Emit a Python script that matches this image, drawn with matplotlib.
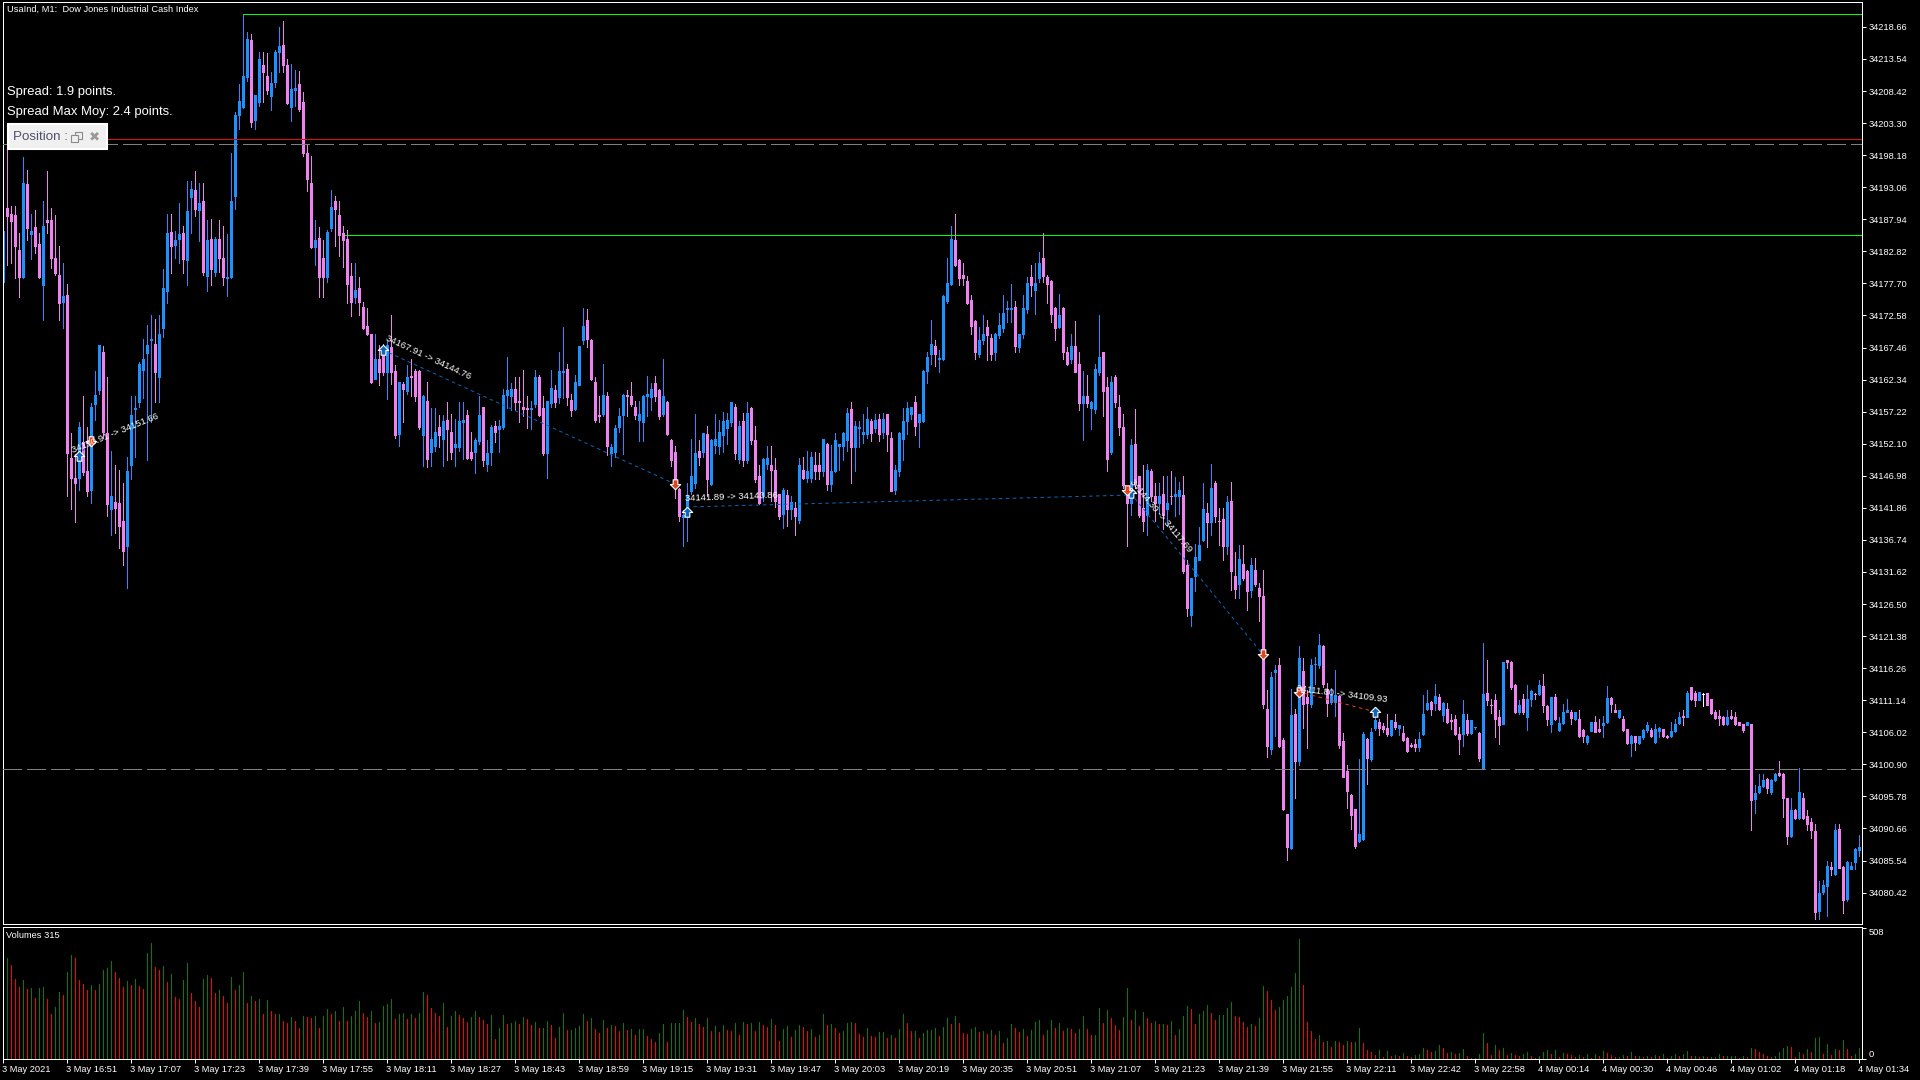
import numpy as np
import matplotlib
matplotlib.use('Agg')
import matplotlib.pyplot as plt
from matplotlib.path import Path
from matplotlib.patches import Rectangle

plt.rcParams['font.family'] = ['Liberation Sans', 'DejaVu Sans']
plt.rcParams['lines.scale_dashes'] = False

base_price = 34000

# candles, points above base_price
body_top = [
    186,189.7,188.8,188.6,183,193.8,193.6,186,186.7,184,
    186.9,187.8,187.9,181.8,179,175.7,175.9,149.8,146.6,154.7,
    152.4,147.7,158,159.9,167.9,166.8,153.8,143.8,142.8,142.6,
    139.8,147.8,156.7,157.8,164.8,165.6,167.9,168.8,168,169.6,
    176.9,185.7,185.9,184.7,185.6,185.8,189.3,192.8,192.6,190.6,
    190.8,184.7,184.8,184.8,184.8,181.7,178.8,190.9,204.6,206.8,
    210.8,216.8,216.6,207.8,213.5,212.6,210.8,209.7,214.7,215.6,
    215.8,212.6,208.8,208.9,209.5,206.7,198.6,193.7,184.7,185,
    181.8,185.9,189.9,190.9,188.6,185.7,184.8,178.9,176.6,176.9,
    174,170.9,169.6,165.7,165.7,167.5,167.9,167.5,163.7,162,
    161.6,162.8,162.9,163.7,163.7,159.7,158.9,152.9,153.9,154.7,
    155.7,155.9,153.9,152,155.7,155.9,156.7,150.7,152.7,156.7,
    157.9,150.6,154.8,154.9,154.9,159.8,160.7,160.9,160.9,158.9,
    158,157.8,157.8,162.7,162.7,157.8,158.9,161,160.7,163.7,
    163.7,164,159.1,162,167.7,170.9,171.9,168.7,162,156.7,
    159.8,159.7,151.5,154.6,156.6,159.9,159.9,159.7,158,156.9,
    159.7,160,160.9,161.8,160.7,159.7,158.8,152.7,150.7,144.9,
    140.7,143.9,146.9,150.6,151,153.8,153.7,152.7,152.9,154,
    155.7,155.9,158.8,158,154.9,155.7,157,157.8,152.7,147,
    149.7,149.8,148.7,147.9,144,144.7,143.9,142.8,141.8,148.7,
    147.9,147.8,149.9,148.7,148.7,152.8,
    152.1,147.8,152.7,152,153.8,157,157.7,154.9,154.7,154,
    156,155.8,155.9,156,156,156.9,153,147.9,153.8,155.7,
    157.8,158,158.7,156.9,163.7,165.9,168,167.7,165.8,175.7,
    177.8,184.8,184.6,181.5,179,178.1,175,171.7,168.7,169.6,
    170.7,169,169.6,171,172.9,173.8,173.8,173.9,169.7,173.7,
    177.7,178.7,177.7,181,181.7,178.7,178.1,173.8,172.7,173.8,
    166.8,167.7,167.7,164.8,159.7,159.7,158.8,164,166,166.7,
    161.1,162,162.8,158,154.7,144.7,151.9,152.1,146.9,141.8,
    147.9,147.8,143.8,143.8,144.1,142.7,
    143.8,144,144.7,143.9,132.8,130.6,134,136,141.6,141,
    145,145.9,139.8,140.1,142.8,143,131,133.7,132.9,131.8,
    132.7,132,129,127.8,109.8,114.8,116,116.7,104.8,92.9,
    108.8,109,117.9,115.8,111.6,116.8,117,119.9,119.8,113,
    112,112,111.8,104.7,99.8,96,93.7,89.7,105.8,105,
    106,107.9,107.6,107,106.7,107.9,107.6,107.1,105.9,105.1,
    104,104.2,105,109,110.7,110.8,111.8,111.7,110.7,109.7,
    107.9,108.1,105.8,109,107.9,107.9,106.9,105.9,112.2,112.3,
    110.4,111.2,108.4,117.3,117.5,117.3,113.6,
    110.4,111.3,111.4,112.6,112.2,113.6,113.4,110.2,111.6,111.6,
    107.5,109.2,109.6,109.2,109.2,108.2,106.4,105.5,107.6,107.6,
    106.5,107.5,111.5,111.5,109.6,109.5,108.2,106.5,105.5,105.4,
    105.4,106.4,107.2,106.4,106.5,106.7,106.5,105.4,106.2,107.3,
    108.4,108.6,112.3,113.2,112.3,112.5,112.2,112.3,111.3,109.3,
    108.6,108.4,108.4,108.6,108.4,107.6,107.3,107.6,107.3,96.4,
    97.4,98.4,98.6,98.4,99.4,99.5,99.4,95.5,93.6,93.6,
    96.5,95.5,92.7,91.7,90.3,80.4,81.7,84.7,84.5,90.4,
    90.6,84.5,85.3,84.7,87.4,87.7,
]
body_bottom = [
    178,188.5,187.7,183.7,178.8,178.7,186.5,185.6,183.6,178.7,
    177.4,187.5,181.8,179.4,174.6,174.8,150.6,146.6,145.8,146.6,
    147.6,144.6,144.7,158.4,160.6,154,142.5,141.7,141.9,138.9,
    134.9,135.7,148.7,157.6,158.7,163.8,166.6,168.6,163.6,162.7,
    170.6,176.5,183.6,183.9,184.8,181.6,181.5,191.5,189.6,189.5,
    179.6,178.9,180,179.6,181.8,178.8,178.6,178.7,191.6,204.6,
    205.8,210.6,203.5,203.8,206.6,211.5,208.6,207.6,209.9,214.7,
    212.6,206.5,205.8,208.6,205.6,198.6,194.4,183.5,183.5,178.8,
    178.7,178.8,186.6,189.6,185.5,184.7,177.6,174.8,175.6,174.8,
    170.6,169.7,161.9,162.5,163.6,163.6,163.6,163.6,153.5,153.7,
    160.8,160.5,162.8,159.7,154.8,153.5,149.6,150.7,151.7,153.5,
    152.9,154.4,150.7,151.6,151.6,155.5,149.8,149.8,150.8,152.6,
    149.5,148.9,150.7,153.9,154.5,154.7,159.8,159.7,158.7,158.7,
    157.7,157.7,157.7,158.5,156.7,150.6,150.6,158.6,158.7,159.5,
    163.6,159.6,157.5,157.7,161.5,168.6,168.9,162.4,155.9,156.5,
    156.8,151.7,150.6,150.7,154.7,156.7,159.7,158.5,156.7,155.9,
    155.6,159.7,159.6,159.7,156.5,156.9,153.7,149.5,145.3,140.6,
    140.4,141,144.6,145.8,149.9,150.7,146.5,145.7,151.9,151.8,
    153.5,154.6,155.6,150.6,149.7,149.5,149.5,152.7,146.5,142.6,
    143.7,148.9,147.9,142.9,140.6,140.9,141.7,141.7,140.6,139.9,
    146.7,146.7,146.7,147.8,147.8,147.7,
    145.7,145.7,147.8,151.8,151.8,152.7,151.6,151.6,154.6,153.7,
    153.7,153.8,154.6,153.7,153.9,153.7,144.6,144.7,147.7,152.9,
    155.8,156.9,154.9,155.6,155.7,163.7,166.5,166.5,165.7,165.7,
    174.9,177.6,180.6,178.6,178.5,174.6,170.9,166.8,166.5,168.7,
    169.5,166.5,166.8,169.5,170.5,173.6,173.6,167.7,167.5,169.7,
    173.6,177.4,176.6,178.6,178.9,177.6,172.8,170.6,170.8,166.7,
    164.8,165.6,163.6,158.6,158.6,158.6,157.8,157.7,163.5,160.5,
    149.7,150.7,158.7,154.7,145.5,142.7,142.7,145.6,140.7,139.7,
    140.7,143.7,142.6,142.7,140.7,141.7,
    143.7,143.8,143.7,131.8,125.8,124.8,130.9,133.6,136.7,139.6,
    139.6,140.5,139.7,135.7,135.7,131.7,128.9,129.7,130.7,128.6,
    128.7,129.7,127.8,110.5,103.8,103.4,115.6,103.9,93.7,87.7,
    87.5,101.5,101.5,110.6,110.7,110.6,116.9,116.7,113.7,110.7,
    110.8,110.9,104,98.9,96.6,92.8,87.8,88.7,88.9,101.9,
    101.7,106.7,106.7,106.6,105.8,105.6,106.8,106.7,104.8,103,
    103.9,103.6,103.6,105.8,109.7,109.7,110.7,109.8,108.8,107.6,
    107.8,105.8,105,105.8,105.9,105.9,106.8,101.9,100.1,111.1,
    110.3,108.2,107.2,107.4,117.3,113.2,109.2,
    109.2,109.2,108.5,111.3,112.1,112.1,110.4,108.1,107.3,108.1,
    106.4,107.5,109.3,108.3,108.2,105.4,105.4,104.5,106.2,106.1,
    106.2,107.2,107.6,110.6,109.3,108.4,106.4,104.3,104.3,104.5,
    104.3,105.3,106.4,105.4,104.4,106.2,105.4,105.2,105.4,106.2,
    107.5,108.4,108.5,111.3,111.2,111.2,112.2,110.4,109.1,108.3,
    108.3,107.3,107.3,108.3,107.3,107.2,106.4,107.2,95.2,95.4,
    96.5,97.4,97.1,96.5,98.4,99.2,95.5,89.5,89.4,92.3,
    92.3,92.3,91.4,90.4,77.3,77.5,80.5,81.4,84.2,83.4,
    84.4,79.3,79.4,84.2,85.3,87.2,
]
wick_high = [
    190.8,200.6,190,190,185.7,197.9,195.8,188.8,189.4,185.8,
    190.8,195.7,189.7,188.6,183.7,181,177.6,153.8,150.5,155.6,
    159.7,154.7,158.6,163.7,167.9,167.7,162.7,150.9,148.7,147.9,
    145.8,150,159.7,159.7,165.2,168.8,171,172.7,172,172.7,
    180,188.8,188.8,186,190.5,186.8,194,194,195.6,193.7,
    193.7,187.9,188,185.1,187.8,186.8,185.6,198.6,205,209.6,
    220.7,217.8,217.5,207.8,214.7,214.6,214.5,211.5,215,218.7,
    219.6,213.5,212.7,211.8,211.7,208.3,200,198,187.8,186.7,
    184.7,186.3,192.6,191.7,190.8,186.8,186.2,181,181,178.7,
    174.7,173.7,169.6,169.7,167.9,168,168.5,172.7,164.7,162,
    162,164.7,165.7,164,163.9,159.8,162,157.8,157.8,156.7,
    156.7,158.8,156.8,156,158.7,158.7,157.5,153.9,153,159.7,
    158,152.7,155.1,155.7,155.9,160.8,165.9,161.8,162.7,162.7,
    163.9,159.7,158.9,163.9,163,159.7,159,163.9,161.5,166.8,
    170.7,164.8,160,163.1,167.7,173.7,173.6,168.9,162.7,159.7,
    164.9,160.4,152,155.1,157.8,160,160.7,161.9,158.9,158.9,
    159.9,162.9,161.8,162.9,160.9,165.7,158.9,152.9,151.8,145,
    141.5,145.9,152.9,156.9,152.7,153.8,154.9,152.8,156.9,155.9,
    157.2,157,158.8,158.5,155.8,157,158.8,158,154.9,148.7,
    149.8,151.8,151.8,149.8,144.1,145,144.7,143.7,142.8,149.8,
    150,151,150.7,150.7,150.6,152.9,
    152.2,151.9,153.8,152,154,157.8,158.7,155.8,155.8,156.9,
    158,156,156.9,156.9,157,156.9,153.9,148.7,154,157.8,
    158.7,158,159.7,156.9,163.8,166.7,171.9,168.7,167.1,175.8,
    181.8,186.8,188.8,181.6,180.9,178.9,175.9,171.9,170.7,172.7,
    171.8,169.7,169.8,172.9,175.9,174.9,177.6,174.9,169.7,175.9,
    178.7,180.6,180.9,182.7,185.7,179,178.2,174,176,174,
    167.5,169.7,171.7,166.7,163.7,163.1,159,164.8,172.7,166.8,
    162.8,162.9,163,159.9,156.9,145.2,152.9,157.6,147,148.7,
    148.9,148,145.9,145.8,146.9,147,
    147.7,146.8,146,146.9,133.6,130.7,136.1,138.8,145.9,142.7,
    148.8,146.1,141.8,141.8,143.8,146,134.8,136,136,132,
    133.8,133.8,129.8,132,112.8,115.7,116.7,117.9,105.1,93,
    112.9,109.7,119.8,117.8,112.8,117.7,118,121.7,119.9,113.9,
    113.1,116,112,105.9,100.8,96.2,93.8,101.7,106.1,105.1,
    106.7,109.1,108.1,107.5,109,108,108.9,107.2,107,105.2,
    104.3,105,106.1,111.9,112.8,111,113.8,112.1,110.8,110.7,
    109,108.8,106.9,111.1,108.9,107.9,106.9,106.1,120.2,117.5,
    111.4,112.2,109.5,117.3,117.6,117.4,113.7,
    111.2,112.2,113.6,112.7,112.3,114.4,115.3,110.3,111.7,112.2,
    108.4,110.5,111.4,109.6,109.3,109.6,106.5,105.6,107.7,108.6,
    108.1,108.6,113.4,111.7,110.6,109.6,108.6,106.6,105.6,105.5,
    105.5,106.5,107.7,106.7,107.3,106.8,106.6,105.6,107.6,108.2,
    109.3,109.6,112.6,113.3,112.6,112.5,112.3,112.3,111.4,109.5,
    109.5,108.6,109.5,109.5,109.3,107.6,107.4,107.6,107.3,97.6,
    99.4,99.4,98.7,98.5,99.5,101.4,99.5,95.6,95.5,93.7,
    100.3,96.3,93.6,92.3,91.4,82.3,82.4,85.5,85.3,91.4,
    91.4,84.6,85.4,85.3,87.5,89.6,
]
wick_low = [
    173.7,180.7,180.9,178.5,175.6,178.6,184.7,181.6,182.5,178.5,
    171.9,185.7,180.1,179,171.9,170.5,143.7,141.6,139.6,144.7,
    147.1,143.7,142.6,155.9,160,153,140.6,137.5,137.8,135.5,
    132.8,129,146.5,150,158,159.4,149.5,155.5,158.7,158.8,
    169.2,174.6,179.4,181.7,181,179.4,177.4,185.7,188.4,184.5,
    179,176.5,177.4,178.9,179.5,177.5,175.7,178.5,189.6,202.3,
    205.7,210,202.6,202.4,206,206.6,208,205.4,209,211.5,
    211.5,206.3,203.7,206,205.3,198,192.5,183.3,180.7,175.6,
    175.6,178,186,183.6,182,180.4,174.6,172.5,174.6,172.6,
    170.4,169.5,161.8,162.4,161.5,163,159.3,161.7,153,151.7,
    155.5,160,159.7,159,154.5,148.5,148.4,148.5,151,151.6,
    148.5,149.5,149.6,148.5,151,149.6,149.6,149.5,147.5,152,
    148.6,147.7,148.7,152.4,150.7,154.5,157.8,157.5,157.5,155.6,
    156.5,154.6,154.5,158,156.5,150.3,146.7,158,158,158.6,
    159.4,158.3,156.5,157.5,161.4,168,167.5,162.3,155.6,155.6,
    156.5,150.3,148.6,150,154,150.5,156.5,158.2,156,152.6,
    152.6,156.5,157.5,159,156,156.5,153.5,148.6,143.5,139.7,
    135.7,136.6,144.1,145,148.7,150,143.8,145.5,150.6,150.5,
    150.7,152,155,149.7,149,148.6,149,152,146,142.4,
    143,148,142.9,142,140,138.7,138.9,140,137.5,139.5,
    146.5,146,146,146.5,146.5,147,
    144.7,144.6,147.6,147.9,149.5,150.9,145.8,147.7,151.6,152.2,
    153,152.6,154,152.6,153,150.9,144.5,144,147,149.5,
    153.7,156,153.5,151.6,155.5,161.8,164.8,164.5,163.6,165.5,
    174.6,177.5,180.5,177.4,177.4,174.4,169.6,165.6,166,168,
    165.5,165.5,165.5,169,170,171.6,171.6,166.8,166.7,169,
    173,175.7,172.8,178,178,174.6,171.6,168.6,170.5,165.6,
    164.6,165,163.5,157.5,152.7,158,154.5,157,163,156.5,
    147.7,150.5,158,153.5,145,135.7,140.7,145,140.4,138.1,
    137.5,143,139.7,141,138.5,138.9,
    142.5,140.6,140.9,131.5,124.6,123,128.6,133.5,136.5,135.6,
    137.6,139.6,136,133.6,134.5,128.7,127.5,127.5,130.4,125.6,
    127.6,129.4,123.8,109.9,102,102.5,105.4,103.6,93.6,85.7,
    87.4,95.5,100.8,106.7,103.5,110.1,113.7,116.3,113.2,108.6,
    110.6,108.6,103.5,98.8,93.9,90.5,87.5,88.5,88.8,97.7,
    101.5,106.4,105.6,106.1,105.5,105.5,106.6,105.6,104.6,102.9,
    103.6,103,103,105.6,109.6,108.7,109.5,109.6,107.8,107.5,
    106.6,105.6,102.6,103.9,105.6,105.8,106.6,101.5,100.1,110.3,
    109.1,105.3,104.2,107.3,116.3,113,109.1,
    109,109,106.4,110.2,111.3,112,109.2,107.2,106.1,108,
    106.3,107.3,109.2,107.3,108,105.2,104.4,104.1,106.2,106,
    106.1,105.2,107.5,109.3,109.2,108.3,106.3,104.1,102.2,103.2,
    104.1,105,106.1,105.2,104.3,105.2,105.2,105.1,105.3,106.1,
    107.4,107.2,108.4,111.2,110.2,111.1,110.2,110.3,109,108.1,
    107.2,107.2,107.2,108.1,107.2,107.2,106.1,107.2,90.4,93.2,
    96.3,97.2,96.4,96.2,98.3,99.1,92.5,88.2,89.3,92.2,
    92.2,92.2,90.4,89.1,76.2,76.2,80.2,76.6,83.2,83.2,
    84.3,77.2,79.1,84.2,84.2,86.3,
]

# b = up candle, p = down candle, w = open equals close
direction = (
    'bppppbpbppbppppbpppb' 'ppbbbppbpppbbbbbbbpb' 'bbpbbpbbpbpbpbppbbbb'
    'bbpbbppbbbppbbppppbp' 'pbbpppppbppppbppbppb' 'pbpppbpbbpbppbbbppbb'
    'pbbpbbbbppppbbppbbpb' 'bppbbbppppbpbbbbpppb' 'bbbppbppppbbbbpbpbbb'
    'bbbpbpbpppbbpppbpbpb' 'pbbppb'
    'pbbbbbpbbbbpbpbppbbb' 'bbpbbbbpbbbbppppppbb' 'ppbbbbbpbbbpbbppppbp'
    'pbppbpbbbppbppppbppp' 'bppbpb'
    'pbbppbbbbpbpppbppbpp' 'bppppbbpppbpbppbbbpp' 'bbpppppbbpbbpppbpbpp'
    'ppbbbpbpbppppbpbbpbp' 'pppbppp'
    'bpbbpbppbpbbbpbppbbp' 'pbbppbppbpbbbpbbppbb' 'bpbppbwpppppbppppbpb'
    'bbpbbpppbpbppppbbbpb' 'ppbbbb'
)

# volumes
volumes = [
    300,393,367,312,281,308,273,277,238,277,281,234,176,203,261,250,339,406,394,308,
    292,269,289,269,292,347,355,382,339,316,281,304,289,312,285,273,413,452,359,347,
    363,300,332,242,234,308,374,257,226,203,312,328,316,257,269,246,218,320,269,289,
    339,218,246,226,234,176,230,187,176,176,148,140,164,148,121,168,164,160,168,121,
    168,195,176,187,148,203,148,168,187,226,179,164,187,140,144,207,214,234,156,176,
    179,156,176,160,179,261,250,199,179,168,218,125,168,187,172,160,144,164,187,164,
    152,137,172,78,121,172,137,140,148,137,164,156,133,144,121,121,148,133,82,125,
    179,113,113,121,129,176,148,160,117,101,152,121,133,129,109,140,113,117,94,117,
    117,90,78,66,101,137,66,140,140,140,192,164,144,160,137,125,160,109,129,105,
    133,113,109,140,94,144,137,140,109,144,133,125,156,133,70,117,129,86,113,133,
    125,109,117,86,94,176,133,137,121,101,109,140,144,140,98,86,121,90,86,105,
    105,82,94,82,117,176,140,109,109,82,101,113,113,121,90,125,160,137,168,140,
    101,98,117,125,105,109,98,113,94,109,62,82,137,121,105,117,90,113,144,152,
    94,113,152,121,140,109,121,117,101,117,168,117,94,94,199,140,191,160,133,113,
    164,277,152,191,129,183,160,140,148,137,137,133,148,94,117,168,207,195,137,176,
    187,211,179,152,172,172,199,222,168,164,144,125,137,129,160,285,265,230,191,203,
    230,246,281,335,468,289,144,109,78,94,66,70,47,70,66,55,70,66,66,121,
    62,35,27,16,35,8,31,12,16,12,23,12,8,16,20,43,35,27,31,55,
    43,23,27,20,23,39,12,4,4,20,101,62,16,55,35,43,16,23,16,12,
    20,27,12,4,12,27,35,20,35,8,23,20,16,8,16,8,20,4,20,12,
    31,23,16,8,8,16,13,27,12,12,8,12,8,16,12,20,4,13,20,12,
    20,31,12,12,8,12,8,8,8,20,12,12,12,12,4,12,8,43,39,27,
    20,12,8,12,27,43,51,47,8,27,20,39,27,82,86,20,59,16,39,35,
    74,39,12,20,43,
]

price_ticks = [
    '34218.66','34213.54','34208.42','34203.30','34198.18','34193.06','34187.94',
    '34182.82','34177.70','34172.58','34167.46','34162.34','34157.22','34152.10',
    '34146.98','34141.86','34136.74','34131.62','34126.50','34121.38','34116.26',
    '34111.14','34106.02','34100.90','34095.78','34090.66','34085.54','34080.42',
]
time_labels = [
    '3 May 2021','3 May 16:51','3 May 17:07','3 May 17:23','3 May 17:39','3 May 17:55',
    '3 May 18:11','3 May 18:27','3 May 18:43','3 May 18:59','3 May 19:15','3 May 19:31',
    '3 May 19:47','3 May 20:03','3 May 20:19','3 May 20:35','3 May 20:51','3 May 21:07',
    '3 May 21:23','3 May 21:39','3 May 21:55','3 May 22:11','3 May 22:42','3 May 22:58',
    '4 May 00:14','4 May 00:30','4 May 00:46','4 May 01:02','4 May 01:18','4 May 01:34',
]

# trades: bar index and price (points above base) of each end
trade_start_bar = [19, 95, 171, 282, 324]
trade_start_price = [150.1, 167.1, 142.0, 144.2, 112.5]
trade_end_bar = [22, 168, 282, 315, 343]
trade_end_price = [152.5, 145.7, 143.9, 118.5, 109.3]
trade_color = ['#0A64C0', '#0A64C0', '#0A64C0', '#0A64C0', '#E8401C']
trade_text = ['34150.91 -> 34151.66', '34167.91 -> 34144.76', '34141.89 -> 34143.86',
              '34144.30 -> 34117.69', '34111.80 -> 34109.93']
trade_text_bar = [17.5, 96, 170.5, 282, 323.5]
trade_text_price = [151.0, 169.1, 143.3, 146.2, 113.0]
trade_text_angle = [22, -25, 2, -50, -7]

buy_bars = [19, 95, 171, 282, 343]
buy_prices = [150.1, 167.1, 141.2, 144.2, 109.3]
sell_bars = [22, 168, 281, 315, 324]
sell_prices = [152.5, 145.7, 144.7, 118.5, 112.5]

# levels, points above base
level_red = 200.7
levels_grey = [199.9, 100.1]
level_green_top = 220.7
level_green_mid = 185.5

W, H = 1920, 1080
LEFT, RIGHT = 2.5, 1862.0
TOP_MAIN, BOT_MAIN = 2.0, 924.0
TOP_VOL, BOT_VOL = 926.5, 1059.0


def pane(fig, top, bottom):
    ax = fig.add_axes([LEFT / W, 1 - bottom / H, (RIGHT - LEFT) / W, (bottom - top) / H])
    ax.set_facecolor('black')
    for s in ax.spines.values():
        s.set_color('white')
        s.set_linewidth(0.72)
    ax.set_xlim(0, (RIGHT - LEFT) / 4)
    ax.yaxis.tick_right()
    ax.tick_params(colors='white', length=3, width=0.72, labelsize=6.7, pad=1.5)
    return ax


fig = plt.figure(figsize=(W / 100, H / 100), dpi=100, facecolor='black')
ax = pane(fig, TOP_MAIN, BOT_MAIN)
vol = pane(fig, TOP_VOL, BOT_VOL)

assert len(body_top) == len(body_bottom) == len(wick_high) == len(wick_low) == 465
assert len(volumes) == 465
assert len(direction) == 465, len(direction)

bars = np.arange(465)
top = base_price + np.array(body_top)
bottom = base_price + np.array(body_bottom)
high = base_price + np.array(wick_high)
low = base_price + np.array(wick_low)

colors = {'b': '#1E90FF', 'p': '#EE82EE', 'w': '#FFFFFF'}
candle_colors = [colors[d] for d in direction]

ax.vlines(bars, low, high, colors=candle_colors, linewidth=0.72, antialiased=False, zorder=2)
ax.bar(bars, top - bottom, 0.5, bottom=bottom, color=candle_colors, edgecolor=candle_colors,
       linewidth=0.72, antialiased=False, zorder=2)

ax.set_ylim(34075.4, 34222.64)
ax.set_yticks([float(p) for p in price_ticks])
ax.set_yticklabels(price_ticks)
ax.set_xticks([])

# horizontal levels
right_end = (RIGHT - LEFT) / 4
ax.hlines(base_price + level_red, 1.2, right_end, color='#E01010', linewidth=0.72, antialiased=False, zorder=3)
ax.hlines(base_price + level_green_top, 60, right_end, color='#00FF00', linewidth=0.72, antialiased=False, zorder=3)
ax.hlines(base_price + level_green_mid, 85.5, right_end, color='#00FF00', linewidth=0.72, antialiased=False, zorder=3)
for lv in levels_grey:
    ax.plot([0, right_end], [base_price + lv] * 2, color='#808080', linewidth=0.72,
            dashes=(13, 4.3), antialiased=False, zorder=3)

# trade lines, arrows, texts
for i in range(len(trade_start_bar)):
    ax.plot([trade_start_bar[i], trade_end_bar[i]],
            [base_price + trade_start_price[i], base_price + trade_end_price[i]],
            color=trade_color[i], linewidth=0.72, dashes=(2.5, 2.5), zorder=4)
    ax.text(trade_text_bar[i], base_price + trade_text_price[i], trade_text[i],
            color='white', fontsize=6.8, rotation=trade_text_angle[i], rotation_mode='anchor',
            ha='left', va='center', zorder=6)

up_arrow = Path([(-1, 0), (0, 1), (1, 0), (0.45, 0), (0.45, -0.9), (-0.45, -0.9), (-0.45, 0), (-1, 0)], closed=True)
down_arrow = Path([(-1, 0), (0, -1), (1, 0), (0.45, 0), (0.45, 0.9), (-0.45, 0.9), (-0.45, 0), (-1, 0)], closed=True)
ax.plot(buy_bars, base_price + np.array(buy_prices), linestyle='none', marker=up_arrow, markersize=7.5,
        markerfacecolor='#0A64C0', markeredgecolor='white', markeredgewidth=0.8, zorder=5)
ax.plot(sell_bars, base_price + np.array(sell_prices), linestyle='none', marker=down_arrow, markersize=7.5,
        markerfacecolor='#E8401C', markeredgecolor='white', markeredgewidth=0.8, zorder=5)

# volumes, green when not lower than the bar before
vol_colors = ['#008000' if i == 0 or volumes[i] >= volumes[i - 1] else '#FF0000' for i in range(465)]
vol.vlines(bars, 0, volumes, colors=vol_colors, linewidth=0.72, antialiased=False)
vol.set_ylim(0, 515)
vol.set_yticks([0, 508])
vol.set_yticklabels(['0', '508'])
vol.get_yticklabels()[0].set_va('bottom')
vol.get_yticklabels()[1].set_va('top')
vol.set_xticks(np.arange(0, 465, 16))
vol.set_xticklabels(time_labels, ha='left')
vol.tick_params(axis='x', pad=1.5)


def fig_text(x, y, s, **kw):
    fig.text(x / W, 1 - y / H, s, va='center', **kw)


fig_text(7, 9.5, 'UsaInd, M1:  Dow Jones Industrial Cash Index', color='white', fontsize=6.7)
fig_text(7, 92, 'Spread: 1.9 points.', color='white', fontsize=9.4)
fig_text(7, 112, 'Spread Max Moy: 2.4 points.', color='white', fontsize=9.4)
fig_text(6, 935, 'Volumes 315', color='white', fontsize=6.7)

# small "Position" panel
px = lambda x0, y0, w, h: (x0 / W, 1 - (y0 + h) / H, w / W, h / H)
bx, by, bw, bh = px(7.5, 123.5, 99, 25)
fig.add_artist(Rectangle((bx, by), bw, bh, transform=fig.transFigure, facecolor='#F0F0F0',
                         edgecolor='white', linewidth=1.5, zorder=10))
fig.text(13 / W, 1 - 136.5 / H, 'Position :', color='#50506A', fontsize=9.6, va='center', zorder=11)
for rx, ry in ((74.5, 132), (71, 135)):
    bx, by, bw, bh = px(rx, ry, 7, 7)
    fig.add_artist(Rectangle((bx, by), bw, bh, transform=fig.transFigure, facecolor='#F0F0F0',
                             edgecolor='#8A8A8A', linewidth=0.8, zorder=11))
fig.text(94 / W, 1 - 136.5 / H, '✖', color='#9A9A9A', fontsize=9.5, family=['DejaVu Sans'], ha='center',
         va='center', zorder=11)

fig.savefig('out.png', dpi=100, facecolor='black')
